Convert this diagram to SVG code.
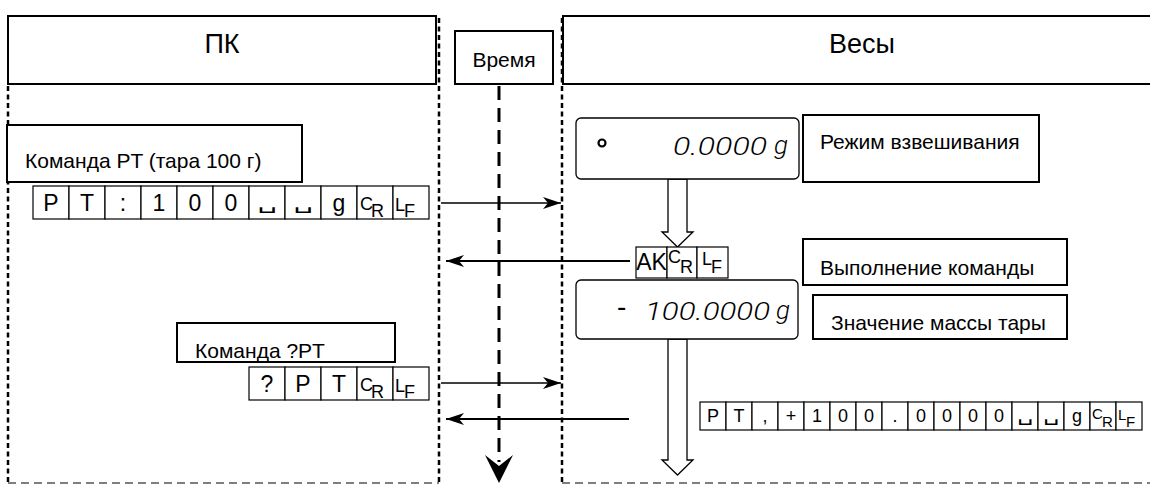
<svg xmlns="http://www.w3.org/2000/svg" width="1150" height="485" viewBox="0 0 1150 485">
<defs>
<style>
.box{fill:#fff;stroke:#000;stroke-width:2}
.cell{fill:#fff;stroke:#000;stroke-width:1.2}
.disp{fill:#fff;stroke:#000;stroke-width:1.3}
.lbl{font-family:"Liberation Sans",Arial,sans-serif;font-size:21px;fill:#000}
.hdr{font-family:"Liberation Sans",Arial,sans-serif;font-size:27px;fill:#000}
.ch{font-family:"Liberation Sans",Arial,sans-serif;font-size:23px;text-anchor:middle;fill:#000}
.chs{font-family:"Liberation Sans",Arial,sans-serif;font-size:18px;text-anchor:middle;fill:#000}
.sub{font-family:"Liberation Sans",Arial,sans-serif;font-size:18px;fill:#000}
.subs{font-family:"Liberation Sans",Arial,sans-serif;font-size:15px;fill:#000}
.sp{font-family:"DejaVu Sans",sans-serif;text-anchor:middle;fill:#000;font-size:18px}
.seg{font-family:Roboto,"Liberation Sans",sans-serif;font-style:italic;font-weight:300;font-size:26px;fill:#000}
.dot{fill:none;stroke:#000;stroke-width:2.5;stroke-dasharray:5 3.5}
.dash{fill:none;stroke:#000;stroke-width:1.2;stroke-dasharray:8 5}
.tl{fill:none;stroke:#000;stroke-width:3;stroke-dasharray:14 8}
.arr{fill:none;stroke:#000;stroke-width:1.4}
.arrb{fill:none;stroke:#000;stroke-width:2}
.hol{fill:#fff;stroke:#000;stroke-width:1.3}
</style>
<marker id="ah" markerUnits="userSpaceOnUse" markerWidth="18" markerHeight="12" refX="18" refY="6" orient="auto" viewBox="0 0 18 12"><path d="M0,0 L18,6 L0,12 L5,6 Z" fill="#000"/></marker>
</defs>
<rect width="1150" height="485" fill="#fff"/>

<g id="frame">
<line x1="8" y1="86" x2="8" y2="483" class="dot"/>
<line x1="439" y1="18" x2="439" y2="483" class="dot"/>
<line x1="8" y1="483" x2="439" y2="483" class="dash"/>
<line x1="562" y1="18" x2="562" y2="483" class="dot"/>
<line x1="562" y1="483" x2="1150" y2="483" class="dash"/>
</g>

<g id="pc-header">
<rect x="8" y="16" width="428" height="68" class="box"/>
<text x="222" y="53" class="hdr" text-anchor="middle">ПК</text>
</g>
<g id="time-header">
<rect x="455" y="31" width="98" height="53" class="box"/>
<text x="504" y="67" class="lbl" text-anchor="middle">Время</text>
</g>
<g id="scale-header">
<rect x="563" y="16" width="600" height="68" class="box"/>
<text x="829" y="53" class="hdr">Весы</text>
</g>

<g id="connectors">
<line x1="499" y1="86" x2="499" y2="462" class="tl"/>
<polygon points="485,455 499,466 513,455 499,483" fill="#000"/>
<line x1="441" y1="203" x2="561" y2="203" class="arr" marker-end="url(#ah)"/>
<line x1="630" y1="261" x2="446" y2="261" class="arrb" marker-end="url(#ah)"/>
<line x1="441" y1="383" x2="561" y2="383" class="arr" marker-end="url(#ah)"/>
<line x1="629" y1="419" x2="446" y2="419" class="arrb" marker-end="url(#ah)"/>
<polygon points="668,179 687,179 687,232 693,232 677.5,247 662,232 668,232" class="hol"/>
<polygon points="668,339 687,339 687,460 693,460 677.5,475 662,460 668,460" class="hol"/>
</g>

<g id="cmd-pt-label">
<rect x="7" y="125" width="295" height="57" class="box"/>
<text x="25" y="168" class="lbl">Команда PT (тара 100 г)</text>
</g>

<g id="cmd-pt-row">
<rect x="33" y="186" width="36" height="33" class="cell"/>
<rect x="69" y="186" width="36" height="33" class="cell"/>
<rect x="105" y="186" width="36" height="33" class="cell"/>
<rect x="141" y="186" width="36" height="33" class="cell"/>
<rect x="177" y="186" width="36" height="33" class="cell"/>
<rect x="213" y="186" width="36" height="33" class="cell"/>
<rect x="249" y="186" width="36" height="33" class="cell"/>
<rect x="285" y="186" width="36" height="33" class="cell"/>
<rect x="321" y="186" width="36" height="33" class="cell"/>
<rect x="357" y="186" width="36" height="33" class="cell"/>
<rect x="393" y="186" width="36" height="33" class="cell"/>
<text x="51" y="211" class="ch">P</text>
<text x="87" y="211" class="ch">T</text>
<text x="123" y="211" class="ch">:</text>
<text x="159" y="211" class="ch">1</text>
<text x="195" y="211" class="ch">0</text>
<text x="231" y="211" class="ch">0</text>
<text transform="translate(267,209) scale(1.7,1)" class="sp">␣</text>
<text transform="translate(303,209) scale(1.7,1)" class="sp">␣</text>
<text x="339" y="211" class="ch">g</text>
<text x="360" y="210" class="sub">C</text>
<text x="371" y="217" class="sub">R</text>
<text x="395" y="211" class="sub">L</text>
<text x="404" y="217" class="sub">F</text>
</g>

<g id="display-1">
<rect x="576" y="118" width="223" height="61" rx="5" class="disp"/>
<circle cx="602" cy="143" r="3.5" fill="none" stroke="#000" stroke-width="2.2"/>
<text x="673" y="155" class="seg" textLength="94" lengthAdjust="spacingAndGlyphs">0.0000</text>
<text x="774" y="154" class="seg" font-size="14">g</text>
</g>

<g id="label-mode">
<rect x="803" y="115" width="236" height="67" class="box"/>
<text x="820" y="149" class="lbl">Режим взвешивания</text>
</g>

<g id="ack-row">
<rect x="636" y="247" width="31" height="31" class="cell"/>
<rect x="667" y="247" width="30" height="31" class="cell"/>
<rect x="697" y="247" width="31" height="31" class="cell"/>
<text x="651.5" y="270" class="ch" font-size="19">AK</text>
<text x="668" y="263" class="sub" font-size="20">C</text>
<text x="680" y="273" class="sub" font-size="18">R</text>
<text x="702" y="265" class="sub" font-size="18">L</text>
<text x="711" y="273" class="sub" font-size="18">F</text>
</g>

<g id="label-exec">
<rect x="803" y="239" width="264" height="46" class="box"/>
<text x="820" y="275" class="lbl">Выполнение команды</text>
</g>

<g id="display-2">
<rect x="576" y="280" width="222" height="59" rx="5" class="disp"/>
<text x="617" y="316" font-family="Liberation Sans, sans-serif" font-size="28">-</text>
<text x="645" y="320" class="seg" textLength="125" lengthAdjust="spacingAndGlyphs">100.0000</text>
<text x="776" y="319" class="seg" font-size="14">g</text>
</g>

<g id="label-tare">
<rect x="813" y="295" width="254" height="44" class="box"/>
<text x="831" y="330" class="lbl">Значение массы тары</text>
</g>

<g id="cmd-qpt-label">
<rect x="177" y="323" width="218" height="39" class="box"/>
<text x="195" y="358" class="lbl">Команда ?PT</text>
</g>

<g id="cmd-qpt-row">
<rect x="249" y="367" width="36" height="33" class="cell"/>
<rect x="285" y="367" width="36" height="33" class="cell"/>
<rect x="321" y="367" width="36" height="33" class="cell"/>
<rect x="357" y="367" width="36" height="33" class="cell"/>
<rect x="393" y="367" width="36" height="33" class="cell"/>
<text x="267" y="392" class="ch">?</text>
<text x="303" y="392" class="ch">P</text>
<text x="339" y="392" class="ch">T</text>
<text x="360" y="391" class="sub">C</text>
<text x="371" y="398" class="sub">R</text>
<text x="395" y="392" class="sub">L</text>
<text x="404" y="398" class="sub">F</text>
</g>

<g id="response-row">
<rect x="700" y="402" width="26" height="28" class="cell"/>
<rect x="726" y="402" width="26" height="28" class="cell"/>
<rect x="752" y="402" width="26" height="28" class="cell"/>
<rect x="778" y="402" width="26" height="28" class="cell"/>
<rect x="804" y="402" width="26" height="28" class="cell"/>
<rect x="830" y="402" width="26" height="28" class="cell"/>
<rect x="856" y="402" width="26" height="28" class="cell"/>
<rect x="882" y="402" width="26" height="28" class="cell"/>
<rect x="908" y="402" width="26" height="28" class="cell"/>
<rect x="934" y="402" width="26" height="28" class="cell"/>
<rect x="960" y="402" width="26" height="28" class="cell"/>
<rect x="986" y="402" width="26" height="28" class="cell"/>
<rect x="1012" y="402" width="26" height="28" class="cell"/>
<rect x="1038" y="402" width="26" height="28" class="cell"/>
<rect x="1064" y="402" width="26" height="28" class="cell"/>
<rect x="1090" y="402" width="26" height="28" class="cell"/>
<rect x="1116" y="402" width="26" height="28" class="cell"/>
<text x="713" y="422" class="chs">P</text>
<text x="739" y="422" class="chs">T</text>
<text x="765" y="422" class="chs">,</text>
<text x="791" y="422" class="chs">+</text>
<text x="817" y="422" class="chs">1</text>
<text x="843" y="422" class="chs">0</text>
<text x="869" y="422" class="chs">0</text>
<text x="895" y="422" class="chs">.</text>
<text x="921" y="422" class="chs">0</text>
<text x="947" y="422" class="chs">0</text>
<text x="973" y="422" class="chs">0</text>
<text x="999" y="422" class="chs">0</text>
<text transform="translate(1025,421) scale(1.4,1)" class="sp" font-size="15">␣</text>
<text transform="translate(1051,421) scale(1.4,1)" class="sp" font-size="15">␣</text>
<text x="1077" y="422" class="chs">g</text>
<text x="1092" y="419" class="subs">C</text>
<text x="1102" y="427" class="subs">R</text>
<text x="1118" y="420" class="subs">L</text>
<text x="1126" y="427" class="subs">F</text>
</g>
</svg>
